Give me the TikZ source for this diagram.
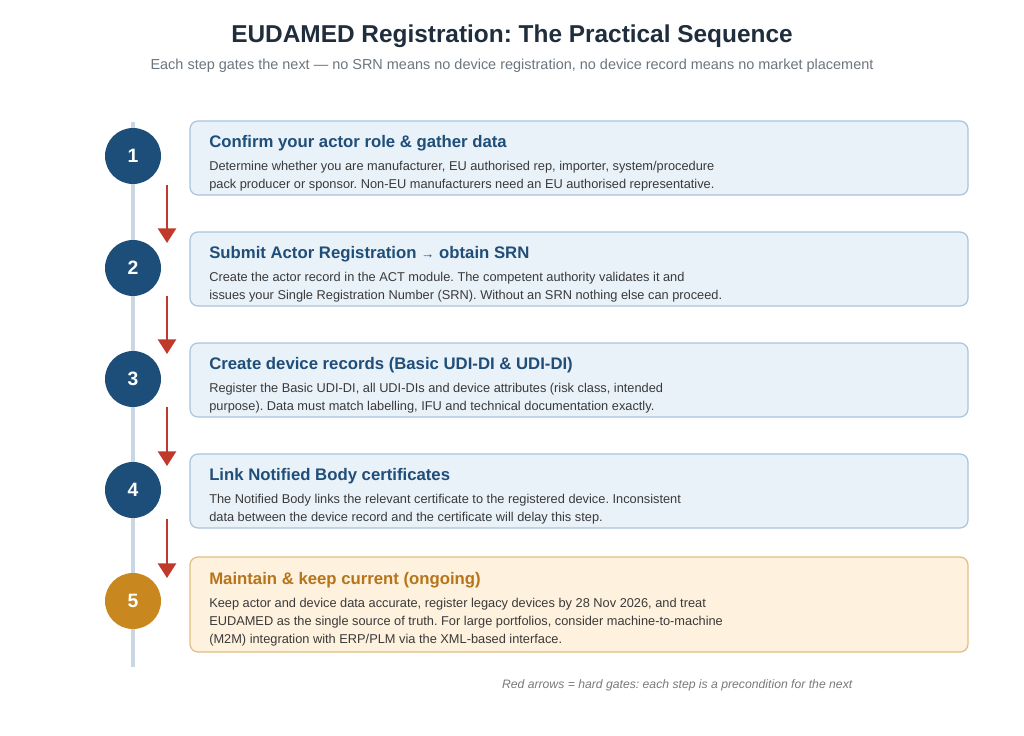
\documentclass[tikz,border=0pt]{standalone}
\usepackage{fontspec}
\setmainfont{Liberation Sans}
\frenchspacing
\usetikzlibrary{arrows.meta}
\definecolor{navy}{HTML}{1D4E7A}
\definecolor{navytext}{HTML}{1F4E79}
\definecolor{railc}{HTML}{C9D6E3}
\definecolor{boxfill}{HTML}{E9F1F9}
\definecolor{boxline}{HTML}{A9C4DC}
\definecolor{amber}{HTML}{C9871F}
\definecolor{ambertext}{HTML}{B7741A}
\definecolor{amberfill}{HTML}{FEF1DD}
\definecolor{amberline}{HTML}{E2BD80}
\definecolor{gatered}{HTML}{C0392B}
\definecolor{bodyc}{HTML}{3A3A3A}
\definecolor{subc}{HTML}{6B7680}
\definecolor{footc}{HTML}{7A7A7A}
\definecolor{headc}{HTML}{1F2D3D}
\tikzset{
  stepcircle/.style={circle, fill=navy, minimum size=42pt, inner sep=0pt, text=white, font=\fontsize{14.5}{16}\selectfont\bfseries},
  stepbox/.style={draw=boxline, fill=boxfill, line width=0.9pt, rounded corners=6pt},
  ambercircle/.style={stepcircle, fill=amber},
  amberbox/.style={stepbox, draw=amberline, fill=amberfill},
  boxtitle/.style={anchor=base west, inner sep=0pt, text=navytext, font=\fontsize{12.55}{14}\selectfont\bfseries},
  boxbody/.style={anchor=north west, inner sep=0pt, text=bodyc, align=left, font=\fontsize{9.6}{13.5}\selectfont},
  gate/.style={draw=gatered, line width=2pt, -{Triangle[width=13.5pt,length=11pt]}},
}
\begin{document}
\begin{tikzpicture}[x=0.75pt,y=-0.75pt]
\path[use as bounding box, fill=white] (0,0) rectangle (1024,735);
% heading
\node[text=headc, font=\fontsize{18.3}{20}\selectfont\bfseries] (title) at (512,36) {EUDAMED Registration: The Practical Sequence};
\node[text=subc, font=\fontsize{10.85}{12}\selectfont] (subtitle) at (512,66) {Each step gates the next — no SRN means no device registration, no device record means no market placement};
% rail
\coordinate (railtop) at (133,122);
\coordinate (railbot) at (133,667);
\draw[railc, line width=3.5pt] (railtop) -- (railbot);
% boxes
\draw[stepbox] (190,121) rectangle (968,195);
\draw[stepbox] (190,232) rectangle (968,306);
\draw[stepbox] (190,343) rectangle (968,417);
\draw[stepbox] (190,454) rectangle (968,528);
\draw[amberbox] (190,557) rectangle (968,652);
% circles
\node[stepcircle] (c1) at (133,156) {1};
\node[stepcircle] (c2) at (133,268) {2};
\node[stepcircle] (c3) at (133,379) {3};
\node[stepcircle] (c4) at (133,490) {4};
\node[ambercircle] (c5) at (133,601) {5};
% texts
\node[boxtitle] (t1) at (209,147) {Confirm your actor role \& gather data};
\node[boxbody] (b1) at (209,161) {Determine whether you are manufacturer, EU authorised rep, importer, system/procedure\\pack producer or sponsor. Non-EU manufacturers need an EU authorised representative.};
\node[boxtitle] (t2) at (209,258) {Submit Actor Registration {\fontsize{10}{12}\selectfont →} obtain SRN};
\node[boxbody] (b2) at (209,272) {Create the actor record in the ACT module. The competent authority validates it and\\issues your Single Registration Number (SRN). Without an SRN nothing else can proceed.};
\node[boxtitle] (t3) at (209,369) {Create device records (Basic UDI-DI \& UDI-DI)};
\node[boxbody] (b3) at (209,383) {Register the Basic UDI-DI, all UDI-DIs and device attributes (risk class, intended\\purpose). Data must match labelling, IFU and technical documentation exactly.};
\node[boxtitle] (t4) at (209,480) {Link Notified Body certificates};
\node[boxbody] (b4) at (209,494) {The Notified Body links the relevant certificate to the registered device. Inconsistent\\data between the device record and the certificate will delay this step.};
\node[boxtitle, text=ambertext] (t5) at (209,584) {Maintain \& keep current (ongoing)};
\node[boxbody] (b5) at (209,598) {Keep actor and device data accurate, register legacy devices by 28 Nov 2026, and treat\\EUDAMED as the single source of truth. For large portfolios, consider machine-to-machine\\(M2M) integration with ERP/PLM via the XML-based interface.};
% gates
\coordinate (g1s) at (167,185); \coordinate (g1e) at (167,243);
\coordinate (g2s) at (167,296); \coordinate (g2e) at (167,354);
\coordinate (g3s) at (167,407); \coordinate (g3e) at (167,466);
\coordinate (g4s) at (167,519); \coordinate (g4e) at (167,578);
\draw[gate] (g1s) -- (g1e);
\draw[gate] (g2s) -- (g2e);
\draw[gate] (g3s) -- (g3e);
\draw[gate] (g4s) -- (g4e);
% footnote
\node[text=footc, font=\fontsize{9.15}{10}\selectfont\itshape, anchor=base east] (foot) at (857,688) {Red arrows = hard gates: each step is a precondition for the next};
\end{tikzpicture}
\end{document}
